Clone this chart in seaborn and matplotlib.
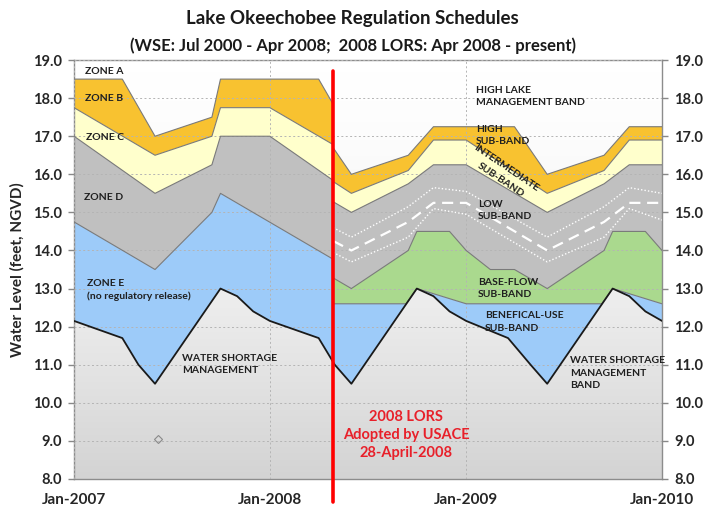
import numpy as np
import pandas as pd
import seaborn as sns
import matplotlib.pyplot as plt
import matplotlib.dates as mdates
from matplotlib.colors import LinearSegmentedColormap

# --- WSE schedule (Jan 2007 -> 28 Apr 2008) ---
adopt_date = "2008-04-28"

wse_b_dates = ["2007-01-01", "2007-04-01", "2007-06-01", "2007-09-15", "2007-10-01", "2008-04-01", "2008-04-28"]
wse_b_top = [18.5, 18.5, 17.0, 17.5, 18.5, 18.5, 17.84]
wse_cd_dates = ["2007-01-01", "2007-06-01", "2007-09-15", "2007-10-01", "2008-01-01", "2008-04-28"]
wse_c_top = [17.75, 16.5, 17.0, 17.75, 17.75, 16.78]
wse_d_top = [17.0, 15.5, 16.25, 17.0, 17.0, 15.84]
wse_e_dates = ["2007-01-01", "2007-06-01", "2007-09-15", "2007-10-01", "2008-04-28"]
wse_e_top = [14.75, 13.5, 15.0, 15.5, 13.77]

# water shortage management line (both schedules)
wsm_dates = ["2007-01-01", "2007-04-01", "2007-05-01", "2007-06-01", "2007-10-01", "2007-11-01",
             "2007-12-01", "2008-01-01", "2008-04-01", "2008-04-28", "2008-05-01", "2008-06-01",
             "2008-10-01", "2008-11-01", "2008-12-01", "2009-01-01", "2009-03-20", "2009-05-01",
             "2009-06-01", "2009-10-01", "2009-11-01", "2009-12-01", "2010-01-01"]
wsm_level = [12.15, 11.7, 11.0, 10.5, 13.0, 12.8, 12.4, 12.15, 11.7, 11.07, 11.0, 10.5,
             13.0, 12.8, 12.4, 12.15, 11.7, 11.0, 10.5, 13.0, 12.8, 12.4, 12.15]

# --- 2008 LORS (28 Apr 2008 -> Jan 2010) ---
high_dates = ["2008-04-28", "2008-06-01", "2008-09-15", "2008-11-01", "2009-04-01",
              "2009-06-01", "2009-09-15", "2009-11-01", "2010-01-01"]
high_top = [16.7, 16.0, 16.5, 17.25, 17.25, 16.0, 16.5, 17.25, 17.25]
mid_dates = ["2008-04-28", "2008-06-01", "2008-09-15", "2008-11-01", "2009-01-01",
             "2009-06-01", "2009-09-15", "2009-11-01", "2010-01-01"]
inter_top = [15.81, 15.5, 16.1, 16.9, 16.9, 15.5, 16.1, 16.9, 16.9]
low_top = [15.28, 15.0, 15.75, 16.25, 16.25, 15.0, 15.75, 16.25, 16.25]
base_dates = ["2008-04-28", "2008-06-01", "2008-09-15", "2008-10-01", "2008-12-01", "2009-01-01",
              "2009-02-15", "2009-04-01", "2009-06-01", "2009-09-15", "2009-10-01", "2009-12-01",
              "2010-01-01"]
base_top = [13.28, 13.0, 14.0, 14.5, 14.5, 14.0, 13.5, 13.5, 13.0, 14.0, 14.5, 14.5, 14.0]
benef_dates = ["2008-04-28", "2008-09-11", "2008-10-01", "2009-01-01", "2009-09-11", "2009-10-01", "2010-01-01"]
benef_top = [12.6, 12.6, 13.0, 12.6, 12.6, 13.0, 12.6]

# lines inside the low sub-band
sub_dates = ["2008-04-28", "2008-06-01", "2008-09-15", "2008-11-01", "2009-01-01",
             "2009-06-01", "2009-09-15", "2009-11-01", "2010-01-01"]
upper_dot = [14.6, 14.35, 15.15, 15.65, 15.55, 14.35, 15.15, 15.65, 15.5]
mid_dash = [14.25, 14.0, 14.75, 15.25, 15.25, 14.0, 14.75, 15.25, 15.25]
lower_dot = [13.95, 13.7, 14.35, 15.1, 14.95, 13.7, 14.35, 15.1, 14.8]

C_ORANGE = "#F8C230"
C_YELLOW = "#FFFFCC"
C_GREY = "#C0C0C0"
C_BLUE = "#9DCBF9"
C_GREEN = "#AAD98E"
C_EDGE = "#7A7A7A"

sns.set_style("white")
plt.rcParams["font.family"] = ["Lato", "DejaVu Sans"]
plt.rcParams["font.weight"] = "bold"

fig = plt.figure(figsize=(7.05, 5.09), dpi=100)
ax = fig.add_axes([0.105, 0.059, 0.834, 0.823])

d = lambda s: mdates.date2num(pd.to_datetime(s))
wsm = pd.DataFrame({"date": pd.to_datetime(wsm_dates), "level": wsm_level})
wsm_old = wsm[wsm["date"] <= adopt_date]
wsm_new = wsm[wsm["date"] >= adopt_date]


def band(top_d, top_v, bot_d, bot_v, color):
    xs = np.concatenate([d(top_d), d(bot_d)[::-1]])
    ys = np.concatenate([np.asarray(top_v), np.asarray(bot_v)[::-1]])
    ax.fill(xs, ys, color=color, lw=0, zorder=1)


# background gradient
grad = np.linspace(0, 1, 256) ** 1.6
cmap = LinearSegmentedColormap.from_list("bg", ["#FFFFFF", "#D3D3D3"])
ax.imshow(grad[:, None], cmap=cmap, aspect="auto", extent=[0, 1, 0, 1],
          transform=ax.transAxes, zorder=0, origin="upper")

# WSE zones
band(wse_b_dates, wse_b_top, wse_cd_dates, wse_c_top, C_ORANGE)
band(wse_cd_dates, wse_c_top, wse_cd_dates, wse_d_top, C_YELLOW)
band(wse_cd_dates, wse_d_top, wse_e_dates, wse_e_top, C_GREY)
band(wse_e_dates, wse_e_top, wsm_old["date"], wsm_old["level"], C_BLUE)

# 2008 LORS bands
band(high_dates, high_top, mid_dates, inter_top, C_ORANGE)
band(mid_dates, inter_top, mid_dates, low_top, C_YELLOW)
band(mid_dates, low_top, base_dates, base_top, C_GREY)
band(base_dates, base_top, benef_dates, benef_top, C_GREEN)
band(benef_dates, benef_top, wsm_new["date"], wsm_new["level"], C_BLUE)

# boundary lines
for dd, vv in [(wse_b_dates, wse_b_top), (wse_cd_dates, wse_c_top), (wse_cd_dates, wse_d_top),
               (wse_e_dates, wse_e_top), (high_dates, high_top), (mid_dates, inter_top),
               (mid_dates, low_top), (base_dates, base_top), (benef_dates, benef_top)]:
    sns.lineplot(x=pd.to_datetime(dd), y=vv, ax=ax, color=C_EDGE, lw=0.8, zorder=3)

sns.lineplot(x=pd.to_datetime(sub_dates), y=upper_dot, ax=ax, color="white", lw=1.0,
             linestyle=(0, (1, 1.5)), zorder=3)
sns.lineplot(x=pd.to_datetime(sub_dates), y=mid_dash, ax=ax, color="white", lw=1.6,
             linestyle=(0, (5, 3)), zorder=3)
sns.lineplot(x=pd.to_datetime(sub_dates), y=lower_dot, ax=ax, color="white", lw=1.0,
             linestyle=(0, (1, 1.5)), zorder=3)
sns.lineplot(data=wsm, x="date", y="level", ax=ax, color="#1A1A1A", lw=1.3, zorder=4)

# stray marker
ax.plot(d(["2007-06-06"]), [9.05], marker="D", ms=4, mfc="none", mec="#8A8A8A", mew=0.8, ls="none", zorder=4)

# adoption line
ax.plot(d([adopt_date, adopt_date]), [18.72, 7.4], color="#FF0000", lw=2.6, zorder=5, clip_on=False)

ax.set_xlim(d("2007-01-01"), d("2010-01-01"))
ax.set_ylim(8, 19)
ax.set_yticks(np.arange(8, 19.5, 1))
ax.yaxis.set_major_formatter(plt.FormatStrFormatter("%.1f"))
ax.xaxis.set_major_locator(mdates.YearLocator())
ax.xaxis.set_minor_locator(mdates.MonthLocator())
ax.xaxis.set_major_formatter(mdates.DateFormatter("%b-%Y"))
ax.tick_params(axis="x", which="major", direction="inout", length=8, width=1, color="#888888",
               labelsize=11, pad=6)
ax.tick_params(axis="x", which="minor", direction="in", length=4, width=0.8, color="#888888")
ax.tick_params(axis="y", which="major", direction="out", length=4, width=1, color="#888888",
               labelsize=10.5, pad=5)
for lab in ax.get_xticklabels() + ax.get_yticklabels():
    lab.set_fontweight("bold")
ax.grid(True, which="major", color="#B4B4B4", lw=0.7, linestyle=(0, (2, 2.5)))
ax.set_axisbelow(False)
for s in ax.spines.values():
    s.set_color("#8C8C8C")
    s.set_linewidth(1.0)
ax.set_xlabel("")
ax.set_ylabel("Water Level (feet, NGVD)", fontsize=11, fontweight="bold", labelpad=6)

ax2 = ax.twinx()
ax2.set_ylim(8, 19)
ax2.set_yticks(np.arange(8, 19.5, 1))
ax2.yaxis.set_major_formatter(plt.FormatStrFormatter("%.1f"))
ax2.tick_params(axis="y", direction="out", length=4, width=1, color="#888888", labelsize=10.5, pad=5)
for lab in ax2.get_yticklabels():
    lab.set_fontweight("bold")
for s in ax2.spines.values():
    s.set_visible(False)

# labels
lab_kw = dict(fontsize=7.5, fontweight="bold", color="#1F1F1F", va="center", ha="left", zorder=6,
              linespacing=1.45)
ax.text(d("2007-01-21"), 18.71, "ZONE A", **lab_kw)
ax.text(d("2007-01-21"), 17.99, "ZONE B", **lab_kw)
ax.text(d("2007-01-23"), 16.96, "ZONE C", **lab_kw)
ax.text(d("2007-01-19"), 15.39, "ZONE D", **lab_kw)
ax.text(d("2007-01-25"), 12.95, "ZONE E\n(no regulatory release)", **lab_kw)
ax.text(d("2007-07-21"), 11.01, "WATER SHORTAGE\nMANAGEMENT", **lab_kw)
ax.text(d("2009-01-20"), 18.05, "HIGH LAKE\nMANAGEMENT BAND", **lab_kw)
ax.text(d("2009-01-19"), 17.02, "HIGH\nSUB-BAND", **lab_kw)
ax.text(d("2009-03-17"), 16.17, "INTERMEDIATE", rotation=-34, rotation_mode="anchor",
        **{**lab_kw, "ha": "center"})
ax.text(d("2009-03-06"), 15.85, "SUB-BAND", rotation=-34, rotation_mode="anchor",
        **{**lab_kw, "ha": "center"})
ax.text(d("2009-01-23"), 15.05, "LOW\nSUB-BAND", **lab_kw)
ax.text(d("2009-01-23"), 13.0, "BASE-FLOW\nSUB-BAND", **lab_kw)
ax.text(d("2009-02-05"), 12.12, "BENEFICAL-USE\nSUB-BAND", **lab_kw)
ax.text(d("2009-07-14"), 10.78, "WATER SHORTAGE\nMANAGEMENT\nBAND", **lab_kw)
ax.text(d("2008-09-11"), 9.16, "2008 LORS\nAdopted by USACE\n28-April-2008", fontsize=10.5,
        fontweight="bold", color="#E8202A", ha="center", va="center", linespacing=1.35, zorder=6)

fig.text(0.5, 0.963, "Lake Okeechobee Regulation Schedules", ha="center", va="center",
         fontsize=13.5, fontweight="bold", color="#1A1A1A")
fig.text(0.5, 0.911, "(WSE: Jul 2000 - Apr 2008;  2008 LORS: Apr 2008 - present)", ha="center",
         va="center", fontsize=12, fontweight="bold", color="#1A1A1A")

fig.savefig("out.png", dpi=100)
